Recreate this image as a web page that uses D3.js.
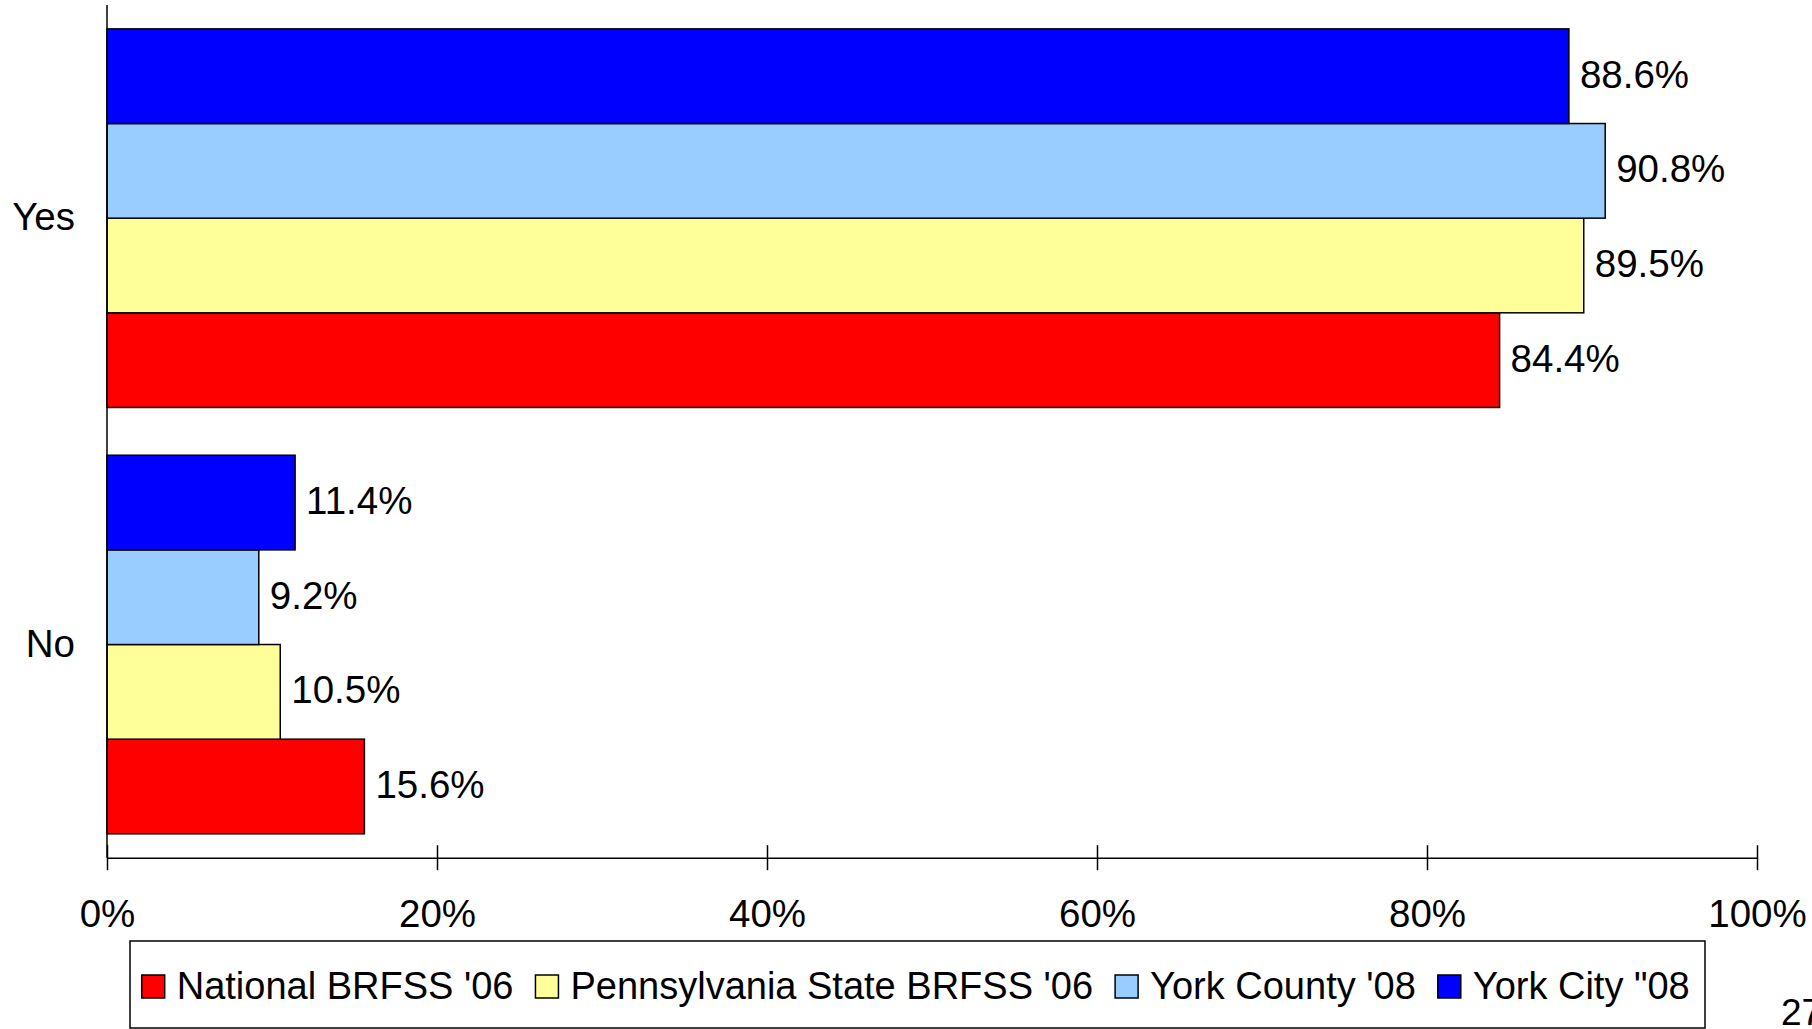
<!DOCTYPE html>
<html>
<head>
<meta charset="utf-8">
<script src="https://cdn.jsdelivr.net/npm/d3@7"></script>
<style>
  html, body { margin: 0; padding: 0; background: #fff; }
  svg { display: block; font-family: "Liberation Sans", Arial, sans-serif; }
</style>
</head>
<body>
<svg id="chart" width="1812" height="1029"></svg>
<script>
// ---- data ----
const categories = ["Yes", "No"];
const seriesNames = ["National BRFSS '06", "Pennsylvania State BRFSS '06", "York County '08", "York City \"08"];
const seriesColors = ["#FF0000", "#FFFF99", "#99CCFF", "#0000FF"];
const nationalValues = [84.4, 15.6];
const pennsylvaniaValues = [89.5, 10.5];
const yorkCountyValues = [90.8, 9.2];
const yorkCityValues = [88.6, 11.4];
const xTickValues = [0, 20, 40, 60, 80, 100];
const pageNumber = "27";

const seriesValues = [nationalValues, pennsylvaniaValues, yorkCountyValues, yorkCityValues];

(function () {
const svg = d3.select("#chart");
const pLeft = 107, pRight = 1757, pTop = 5, pBottom = 857.7;

const x = d3.scaleLinear().domain([0, 100]).range([pLeft, pRight]);
const y = d3.scaleBand().domain(categories).range([pTop, pBottom]).paddingInner(0.112).paddingOuter(0.056);
// top-to-bottom order within each group: York City, York County, Pennsylvania, National
const drawOrder = [3, 2, 1, 0];
const ySub = d3.scaleBand().domain(drawOrder).range([0, y.bandwidth()]).padding(0);

const rows = [];
categories.forEach((c, ci) => {
  seriesNames.forEach((s, si) => {
    rows.push({ cat: c, si: si, value: seriesValues[si][ci] });
  });
});

const g = svg.append("g");
g.selectAll("rect.bar").data(rows).enter().append("rect")
  .attr("class", "bar")
  .attr("x", x(0))
  .attr("y", d => y(d.cat) + ySub(d.si))
  .attr("width", d => x(d.value) - x(0))
  .attr("height", ySub.bandwidth())
  .attr("fill", d => seriesColors[d.si])
  .attr("stroke", "#000")
  .attr("stroke-width", 1.5);

g.selectAll("text.val").data(rows).enter().append("text")
  .attr("class", "val")
  .attr("x", d => x(d.value) + 11)
  .attr("y", d => y(d.cat) + ySub(d.si) + ySub.bandwidth() / 2 + 11.5)
  .attr("font-size", 38.5)
  .attr("fill", "#000")
  .text(d => d.value.toFixed(1) + "%");

svg.append("line")
  .attr("x1", pLeft).attr("x2", pLeft)
  .attr("y1", pTop).attr("y2", pBottom)
  .attr("stroke", "#000").attr("stroke-width", 1.5);

svg.selectAll("text.cat").data(categories).enter().append("text")
  .attr("class", "cat")
  .attr("x", 75)
  .attr("y", d => y(d) + y.bandwidth() / 2 + 12)
  .attr("text-anchor", "end")
  .attr("font-size", 38.5)
  .text(d => d);

const xAxis = d3.axisBottom(x).tickValues(xTickValues).tickSize(0).tickFormat(d => d + "%");
const xg = svg.append("g").attr("transform", `translate(0,${pBottom})`).call(xAxis);
xg.select(".domain").attr("stroke", "#000").attr("stroke-width", 1.5);
xg.selectAll(".tick line").remove();
xg.selectAll(".tick").append("line")
  .attr("y1", -12.5).attr("y2", 12.5)
  .attr("stroke", "#000").attr("stroke-width", 1.5);
xg.selectAll(".tick text")
  .attr("y", 0).attr("dy", null)
  .attr("transform", "translate(0,69)")
  .attr("font-size", 38.5)
  .attr("font-family", "Liberation Sans, Arial, sans-serif")
  .attr("fill", "#000");

const legend = svg.append("g");
legend.append("rect")
  .attr("x", 130).attr("y", 941)
  .attr("width", 1575).attr("height", 87)
  .attr("fill", "#fff").attr("stroke", "#000").attr("stroke-width", 1.5);

let lx = 141.7;
seriesNames.forEach((name, i) => {
  legend.append("rect")
    .attr("x", lx).attr("y", 975)
    .attr("width", 23).attr("height", 23)
    .attr("fill", seriesColors[i]).attr("stroke", "#000").attr("stroke-width", 1.5);
  const t = legend.append("text")
    .attr("x", lx + 35).attr("y", 998.5)
    .attr("font-size", 38)
    .text(name);
  const w = t.node().getComputedTextLength();
  lx = lx + 35 + w + 22;
});

svg.append("text")
  .attr("x", 1781).attr("y", 1025)
  .attr("font-size", 37)
  .text(pageNumber);
})();
</script>
</body>
</html>
